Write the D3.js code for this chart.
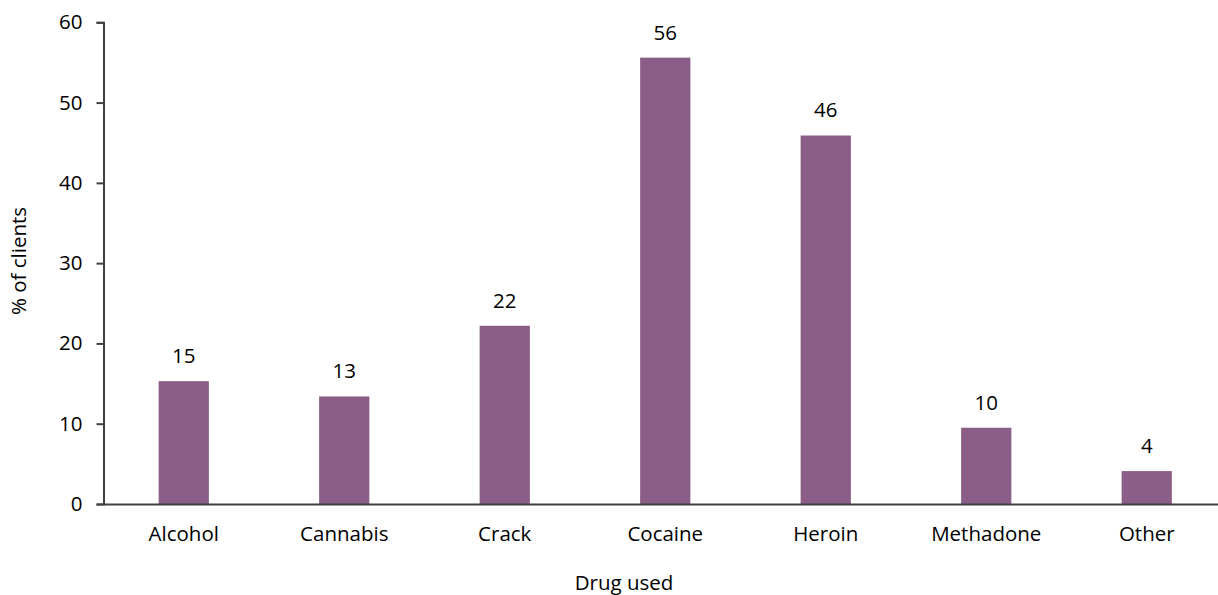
<!DOCTYPE html>
<html>
<head>
<meta charset="utf-8">
<script src="https://cdn.jsdelivr.net/npm/d3@7"></script>
<style>
  html, body { margin: 0; padding: 0; background: #fff; }
  svg { display: block; font-family: "Open Sans", "Liberation Sans", sans-serif; }
</style>
</head>
<body>
<svg id="chart" width="1218" height="595"></svg>
<script>
// Share of clients by drug used
const categories = ["Alcohol", "Cannabis", "Crack", "Cocaine", "Heroin", "Methadone", "Other"];
const values = [15.3, 13.4, 22.2, 55.6, 45.9, 9.5, 4.1];
const yTicks = [0, 10, 20, 30, 40, 50, 60];

const width = 1218, height = 595;
const margin = { top: 22.3, right: -9, bottom: 91, left: 103.5 };
const fontSize = 20.5;
const barColor = "#8b5e88";

const svg = d3.select("#chart");
const innerW = width - margin.left - margin.right;
const innerH = height - margin.top - margin.bottom;

const x = d3.scaleBand()
  .domain(categories)
  .range([0, innerW])
  .paddingInner(0.687)
  .paddingOuter(0.3435);

const y = d3.scaleLinear().domain([0, 60]).range([innerH, 0]);

const g = svg.append("g").attr("transform", `translate(${margin.left},${margin.top})`);

const rows = categories.map((c, i) => ({ c, v: values[i] }));

// bars
g.selectAll("rect.bar")
  .data(rows)
  .join("rect")
  .attr("class", "bar")
  .attr("x", d => x(d.c))
  .attr("y", d => y(d.v))
  .attr("width", x.bandwidth())
  .attr("height", d => y(0) - y(d.v))
  .attr("fill", barColor);

// value labels
g.selectAll("text.val")
  .data(rows)
  .join("text")
  .attr("class", "val")
  .attr("x", d => x(d.c) + x.bandwidth() / 2)
  .attr("y", d => y(d.v) - 18)
  .attr("text-anchor", "middle")
  .attr("font-size", fontSize)
  .attr("fill", "#000")
  .text(d => d3.format(".0f")(d.v));

// y axis
const yAxis = g.append("g")
  .call(d3.axisLeft(y).tickValues(yTicks).tickSize(7).tickPadding(14).tickSizeOuter(7));
yAxis.select(".domain").attr("stroke", "#404040").attr("stroke-width", 2);
yAxis.selectAll(".tick line").attr("stroke", "#404040").attr("stroke-width", 2);
yAxis.selectAll(".tick text").attr("font-size", fontSize).attr("fill", "#000")
  .attr("font-family", "'Open Sans', sans-serif");

// x axis (no ticks)
const xAxis = g.append("g")
  .attr("transform", `translate(0,${innerH})`)
  .call(d3.axisBottom(x).tickSize(0).tickPadding(22));
xAxis.select(".domain").attr("stroke", "#404040").attr("stroke-width", 2);
xAxis.selectAll(".tick text").attr("font-size", fontSize).attr("fill", "#000")
  .attr("font-family", "'Open Sans', sans-serif");

// axis titles
svg.append("text")
  .attr("x", 624)
  .attr("y", 590)
  .attr("text-anchor", "middle")
  .attr("font-size", fontSize)
  .text("Drug used");

svg.append("text")
  .attr("transform", "translate(26,261) rotate(-90)")
  .attr("text-anchor", "middle")
  .attr("font-size", fontSize)
  .text("% of clients");
</script>
</body>
</html>
